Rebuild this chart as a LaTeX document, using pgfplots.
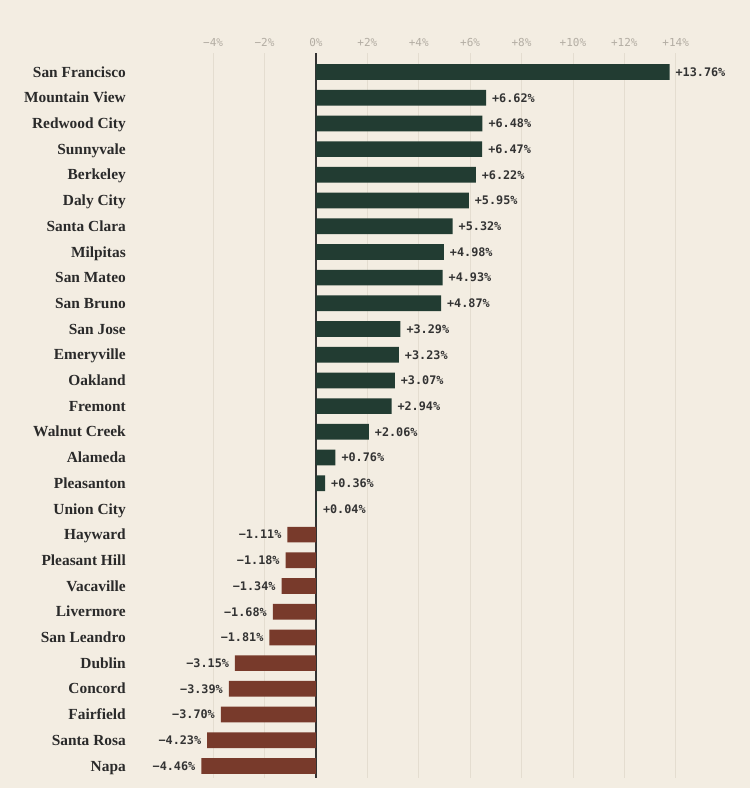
\documentclass[border=0pt]{standalone}
\usepackage{pgfplots}
\pgfplotsset{compat=1.18}
\usepackage{fontspec}
\setmainfont{Liberation Serif}
\newfontfamily\monof{DejaVu Sans Mono}
\definecolor{bg}{HTML}{F3EDE2}
\definecolor{grn}{HTML}{223C32}
\definecolor{brn}{HTML}{783A2B}
\definecolor{gridc}{HTML}{E4DDD0}
\definecolor{tickc}{HTML}{B3ADA3}
\definecolor{valc}{HTML}{333333}
\definecolor{labc}{HTML}{2A2A2A}
\begin{document}
\begin{tikzpicture}
\fill[bg] (-134pt,-10pt) rectangle (616pt,778pt);
\begin{axis}[
 scale only axis, width=616pt, height=725pt,
 xmin=-7.08, xmax=16.89, ymin=-0.74, ymax=27.47,
 y dir=reverse,
 axis line style={draw=none}, major tick length=0pt,
 xtick={-4,-2,...,14},
 xticklabels={−4\%,−2\%,0\%,+2\%,+4\%,+6\%,+8\%,+10\%,+12\%,+14\%},
 xticklabel pos=upper,
 xticklabel style={font=\monof\fontsize{11}{12}\selectfont, text=tickc, inner sep=0pt, anchor=south, yshift=6pt},
 xmajorgrids, grid style={draw=gridc, line width=0.8pt},
 ytick={0,...,27},
 yticklabels={San Francisco,Mountain View,Redwood City,Sunnyvale,Berkeley,Daly City,Santa Clara,Milpitas,San Mateo,San Bruno,San Jose,Emeryville,Oakland,Fremont,Walnut Creek,Alameda,Pleasanton,Union City,Hayward,Pleasant Hill,Vacaville,Livermore,San Leandro,Dublin,Concord,Fairfield,Santa Rosa,Napa},
 yticklabel style={font=\bfseries\fontsize{15.4}{17}\selectfont, text=labc, inner sep=0pt, anchor=east, xshift=-8pt, text height=10.2pt, text depth=0pt},
 extra x ticks={0}, extra x tick labels={},
 extra x tick style={major grid style={draw=black!80, line width=1.2pt}},
 xbar, bar shift=0pt, bar width=15.7pt,
 nodes near coords, point meta=explicit symbolic,
 every node near coord/.append style={font=\monof\bfseries\fontsize{11.8}{13}\selectfont, text=valc, text height=8.6pt, text depth=0pt},
 clip=false,
]
\addplot[fill=grn, draw=none, every node near coord/.append style={anchor=west, xshift=2.5pt}] coordinates {
(13.76,0) [+13.76\%]
(6.62,1) [+6.62\%]
(6.48,2) [+6.48\%]
(6.47,3) [+6.47\%]
(6.22,4) [+6.22\%]
(5.95,5) [+5.95\%]
(5.32,6) [+5.32\%]
(4.98,7) [+4.98\%]
(4.93,8) [+4.93\%]
(4.87,9) [+4.87\%]
(3.29,10) [+3.29\%]
(3.23,11) [+3.23\%]
(3.07,12) [+3.07\%]
(2.94,13) [+2.94\%]
(2.06,14) [+2.06\%]
(0.76,15) [+0.76\%]
(0.36,16) [+0.36\%]
(0.04,17) [+0.04\%]
};
\addplot[fill=brn, draw=none, every node near coord/.append style={anchor=east, xshift=-2.5pt}] coordinates {
(-1.11,18) [−1.11\%]
(-1.18,19) [−1.18\%]
(-1.34,20) [−1.34\%]
(-1.68,21) [−1.68\%]
(-1.81,22) [−1.81\%]
(-3.15,23) [−3.15\%]
(-3.39,24) [−3.39\%]
(-3.70,25) [−3.70\%]
(-4.23,26) [−4.23\%]
(-4.46,27) [−4.46\%]
};
\end{axis}
\end{tikzpicture}
\end{document}
